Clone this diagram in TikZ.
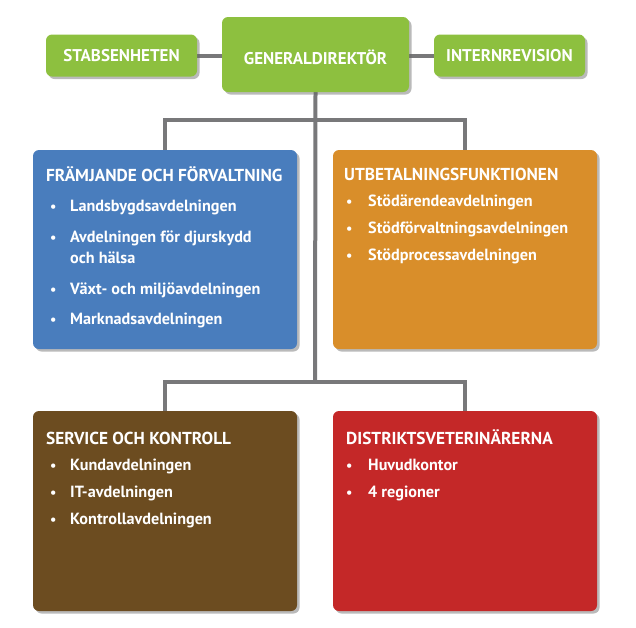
\documentclass[tikz,border=0pt]{standalone}
\usepackage{fontspec}
\setmainfont{PT Sans}
\usetikzlibrary{shadows,backgrounds}
\definecolor{grn}{RGB}{141,192,63}
\definecolor{blu}{RGB}{73,125,189}
\definecolor{org}{RGB}{217,142,42}
\definecolor{brn}{RGB}{108,76,32}
\definecolor{rd}{RGB}{196,40,40}
\definecolor{lgray}{RGB}{120,120,122}
\tikzset{
  box/.style={rounded corners=6pt, inner sep=0pt, draw=none,
    drop shadow={shadow xshift=2.5pt, shadow yshift=-2.5pt, opacity=0.45, fill=black!60}},
  toptxt/.style={text=white, font=\bfseries\fontsize{17}{20}\selectfont},
  ttl/.style={anchor=base west, text=white, inner sep=0pt, font=\bfseries\fontsize{17.3}{20}\selectfont},
  itm/.style={anchor=base west, text=white, inner sep=0pt, font=\bfseries\fontsize{16.2}{21}\selectfont, align=left},
  bul/.style={anchor=base west, text=white, inner sep=0pt, font=\bfseries\fontsize{14}{17}\selectfont},
  conn/.style={draw=lgray, line width=4pt}
}
\begin{document}
\begin{tikzpicture}[x=1pt,y=-1pt]
\useasboundingbox (0,0) rectangle (636,627);
% top row
\node[box, fill=grn, minimum width=151pt, minimum height=42pt] (stab) at (121.5,55.5) {};
\node[toptxt] (stabt) at (stab.center) {STABSENHETEN};
\node[box, fill=grn, minimum width=187pt, minimum height=75pt] (gd) at (315.5,54.5) {};
\node[toptxt] (gdt) at (315.5,57) {GENERALDIREKTÖR};
\node[box, fill=grn, minimum width=151pt, minimum height=42pt] (int) at (509.5,55.5) {};
\node[toptxt] (intt) at (int.center) {INTERNREVISION};
% big boxes
\node[box, fill=blu, minimum width=264pt, minimum height=199pt] (fram) at (165,249.5) {};
\node[box, fill=org, minimum width=264pt, minimum height=199pt] (utb) at (465,249.5) {};
\node[box, fill=brn, minimum width=264pt, minimum height=200pt] (serv) at (165,511) {};
\node[box, fill=rd, minimum width=264pt, minimum height=200pt] (dist) at (465,511) {};
% connectors
\coordinate (j1) at (315,120);
\coordinate (j2) at (315,382);
\begin{scope}[on background layer]
\draw[conn] (stab.east) -- (gd.west |- stab.east);
\draw[conn] (gd.east |- int.west) -- (int.west);
\draw[conn] (gd.south) -- (j2);
\draw[conn] (fram.north) |- (j1) -| (utb.north);
\draw[conn] (serv.north) |- (j2) -| (dist.north);
\end{scope}
% blue text
\node[ttl] (t1) at (46,181) {FRÄMJANDE OCH FÖRVALTNING};
\node[bul] (b11) at (50,211) {•};
\node[itm] (i11) at (70,211) {Landsbygdsavdelningen};
\node[bul] (b12) at (50,242) {•};
\node[itm] (i12) at (70,242) {Avdelningen för djurskydd};
\node[itm] (i12b) at (70,263) {och hälsa};
\node[bul] (b13) at (50,294) {•};
\node[itm] (i13) at (70,294) {Växt- och miljöavdelningen};
\node[bul] (b14) at (50,324) {•};
\node[itm] (i14) at (70,324) {Marknadsavdelningen};
% orange text
\node[ttl] (t2) at (344,180) {UTBETALNINGSFUNKTIONEN};
\node[bul] (b21) at (346,206) {•};
\node[itm] (i21) at (368,206) {Stödärendeavdelningen};
\node[bul] (b22) at (346,233) {•};
\node[itm] (i22) at (368,233) {Stödförvaltningsavdelningen};
\node[bul] (b23) at (346,260) {•};
\node[itm] (i23) at (368,260) {Stödprocessavdelningen};
% brown text
\node[ttl] (t3) at (46,444) {SERVICE OCH KONTROLL};
\node[bul] (b31) at (50,470) {•};
\node[itm] (i31) at (70,470) {Kundavdelningen};
\node[bul] (b32) at (50,497) {•};
\node[itm] (i32) at (70,497) {IT-avdelningen};
\node[bul] (b33) at (50,524) {•};
\node[itm] (i33) at (70,524) {Kontrollavdelningen};
% red text
\node[ttl] (t4) at (346,444) {DISTRIKTSVETERINÄRERNA};
\node[bul] (b41) at (346,470) {•};
\node[itm] (i41) at (368,470) {Huvudkontor};
\node[bul] (b42) at (346,497) {•};
\node[itm] (i42) at (368,497) {4 regioner};
\end{tikzpicture}
\end{document}
